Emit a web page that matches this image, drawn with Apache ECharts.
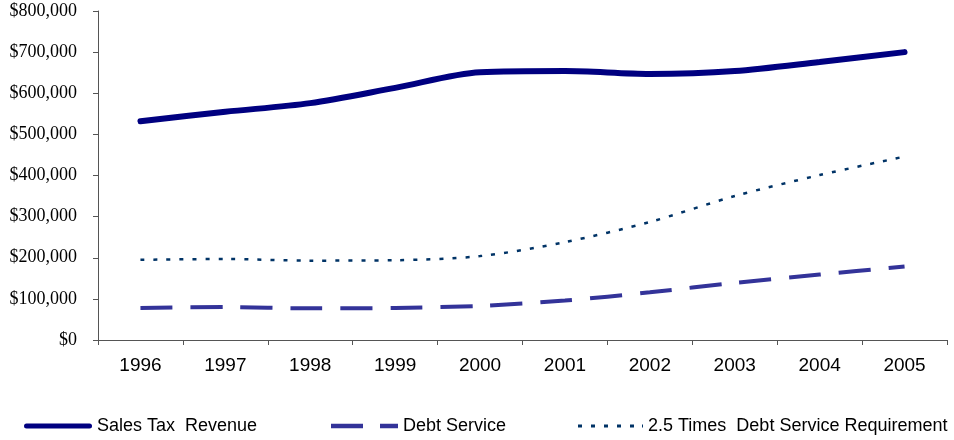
<!DOCTYPE html>
<html><head><meta charset="utf-8">
<script src="https://cdn.jsdelivr.net/npm/echarts@6/dist/echarts.min.js"></script>
<style>html,body{margin:0;padding:0;background:#fff}#c{width:954px;height:440px}</style>
</head><body><div id="c"></div>
<script>
var categories = ['1996','1997','1998','1999','2000','2001','2002','2003','2004','2005'];
var salesTax = [532000, 555000, 576000, 613000, 651000, 654000, 647000, 654000, 676000, 700000];
var debtService = [78000, 80000, 77000, 78000, 83000, 96000, 116000, 139000, 159000, 179000];
var times25 = [195000, 197000, 193000, 194000, 204000, 238000, 287000, 350000, 401000, 446000];
var yTicks = {min: 0, max: 800000, interval: 100000};

var chart = echarts.init(document.getElementById('c'));
var lf = {fontFamily: 'Liberation Sans', fontSize: 18, color: '#000'};
function leg(name, left, w, h, path) {
  return {data: [{name: name, icon: path}], left: left, top: 417, padding: 0, itemWidth: w, itemHeight: h,
    textStyle: lf, itemStyle: {borderWidth: 0}, lineStyle: {width: 0}, selectedMode: false};
}
chart.setOption({
  animation: false,
  grid: {left: 98, right: 7, top: 11, bottom: 100},
  xAxis: {
    type: 'category', data: categories, boundaryGap: true,
    axisLine: {lineStyle: {color: '#555', width: 1}},
    axisTick: {show: true, length: 5, lineStyle: {color: '#555'}},
    axisLabel: {fontFamily: 'Liberation Sans', fontSize: 19, color: '#000', margin: 16}
  },
  yAxis: {
    type: 'value', min: yTicks.min, max: yTicks.max, interval: yTicks.interval,
    axisLine: {show: true, lineStyle: {color: '#555', width: 1}},
    axisTick: {show: true, length: 5, lineStyle: {color: '#555'}},
    splitLine: {show: false},
    axisLabel: {fontFamily: 'Liberation Serif', fontSize: 18, color: '#000', margin: 21,
      formatter: function (v) { return '$' + v.toLocaleString('en-US'); }}
  },
  legend: [
    leg('Sales Tax  Revenue', 24, 68, 5, 'path://M2.5,0H65.5A2.5,2.5 0 0 1 65.5,5H2.5A2.5,2.5 0 0 1 2.5,0Z'),
    leg('Debt Service', 331, 67, 4.5, 'path://M0,0H32V4.5H0Z M49,0H67V4.5H49Z'),
    leg('2.5 Times  Debt Service Requirement', 578, 65, 3, 'path://M0,0H4V3H0Z M13,0H17V3H13Z M26,0H30V3H26Z M39,0H43V3H39Z M52,0H56V3H52Z M64,0H65V3H64Z')
  ],
  series: [
    {name: 'Sales Tax  Revenue', type: 'line', data: salesTax, smooth: 0.3, symbol: 'none',
     lineStyle: {color: '#000080', width: 6, cap: 'round'}, itemStyle: {color: '#000080'}},
    {name: 'Debt Service', type: 'line', data: debtService, smooth: 0.3, symbol: 'none',
     lineStyle: {color: '#333399', width: 4, type: [32, 18]}, itemStyle: {color: '#333399'}},
    {name: '2.5 Times  Debt Service Requirement', type: 'line', data: times25, smooth: 0.3, symbol: 'none',
     lineStyle: {color: '#003366', width: 2.5, type: [4, 9]}, itemStyle: {color: '#003366'}}
  ]
});
</script></body></html>
